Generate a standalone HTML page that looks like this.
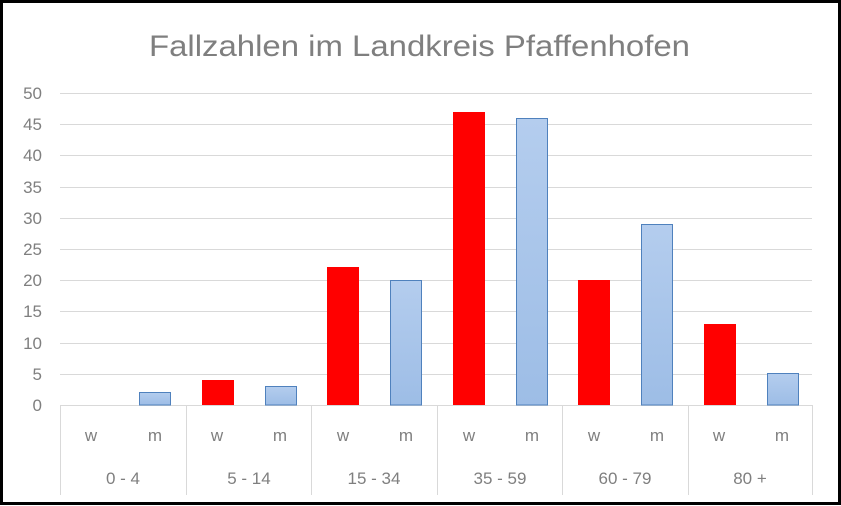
<!DOCTYPE html>
<html><head><style>body{margin:0;background:#fff}svg{display:block}</style></head><body>
<svg width="841" height="506" viewBox="0 0 841 506" xmlns="http://www.w3.org/2000/svg" font-family="Liberation Sans, sans-serif">
<defs><linearGradient id="b" x1="0" y1="0" x2="0" y2="1"><stop offset="0" stop-color="#b4cdee"/><stop offset="1" stop-color="#9dbde6"/></linearGradient></defs>
<rect x="1.5" y="1.5" width="838" height="502" fill="#fff" stroke="#000" stroke-width="3"/>
<text x="149" y="56" textLength="541" lengthAdjust="spacingAndGlyphs" font-size="30" fill="#7f7f7f">Fallzahlen im Landkreis Pfaffenhofen</text>
<g stroke="#d9d9d9" stroke-width="1">
<line x1="60" x2="812" y1="93.5" y2="93.5"/><line x1="60" x2="812" y1="124.5" y2="124.5"/><line x1="60" x2="812" y1="155.5" y2="155.5"/><line x1="60" x2="812" y1="187.5" y2="187.5"/><line x1="60" x2="812" y1="218.5" y2="218.5"/><line x1="60" x2="812" y1="249.5" y2="249.5"/><line x1="60" x2="812" y1="280.5" y2="280.5"/><line x1="60" x2="812" y1="311.5" y2="311.5"/><line x1="60" x2="812" y1="343.5" y2="343.5"/><line x1="60" x2="812" y1="374.5" y2="374.5"/><line x1="60" x2="812" y1="405.5" y2="405.5"/>
<line x1="60.5" x2="60.5" y1="405" y2="495"/><line x1="186.5" x2="186.5" y1="405" y2="495"/><line x1="311.5" x2="311.5" y1="405" y2="495"/><line x1="437.5" x2="437.5" y1="405" y2="495"/><line x1="562.5" x2="562.5" y1="405" y2="495"/><line x1="688.5" x2="688.5" y1="405" y2="495"/><line x1="812.5" x2="812.5" y1="405" y2="495"/>
</g>
<g font-size="17" fill="#7f7f7f" text-anchor="end">
<text x="42" y="99">50</text><text x="42" y="130">45</text><text x="42" y="161">40</text><text x="42" y="193">35</text><text x="42" y="224">30</text><text x="42" y="255">25</text><text x="42" y="286">20</text><text x="42" y="317">15</text><text x="42" y="349">10</text><text x="42" y="380">5</text><text x="42" y="411">0</text>
</g>
<g fill="#ff0000">
<rect x="202" y="380" width="32" height="25"/><rect x="327" y="267" width="32" height="138"/><rect x="453" y="112" width="32" height="293"/><rect x="578" y="280" width="32" height="125"/><rect x="704" y="324" width="32" height="81"/>
</g>
<g fill="url(#b)" stroke="#4f81bd" stroke-width="1">
<rect x="139.5" y="392.5" width="31" height="12.5"/><rect x="265.5" y="386.5" width="31" height="18.5"/><rect x="390.5" y="280.5" width="31" height="124.5"/><rect x="516.5" y="118.5" width="31" height="286.5"/><rect x="641.5" y="224.5" width="31" height="180.5"/><rect x="767.5" y="373.5" width="31" height="31.5"/>
</g>
<g font-size="17" fill="#7f7f7f" text-anchor="middle">
<text x="91" y="441">w</text><text x="155" y="441">m</text><text x="217" y="441">w</text><text x="280" y="441">m</text><text x="343" y="441">w</text><text x="406" y="441">m</text><text x="469" y="441">w</text><text x="532" y="441">m</text><text x="594" y="441">w</text><text x="657" y="441">m</text><text x="719" y="441">w</text><text x="782" y="441">m</text>
<text x="123" y="484">0 - 4</text><text x="249" y="484">5 - 14</text><text x="374" y="484">15 - 34</text><text x="500" y="484">35 - 59</text><text x="625" y="484">60 - 79</text><text x="750" y="484">80 +</text>
</g>
</svg>
</body></html>
